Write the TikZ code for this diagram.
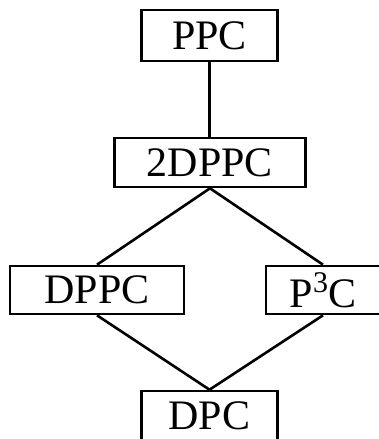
\documentclass[tikz,border=0pt]{standalone}
\usepackage{fontspec}
\setmainfont{Liberation Serif}
\usetikzlibrary{positioning}

\tikzset{
  classbox/.style={draw, line width=2.6pt, inner sep=0pt, font=\fontsize{42}{50}\selectfont},
  link/.style={line width=2.6pt}
}
\newcommand{\cube}{\raisebox{15pt}{\fontsize{30}{32}\selectfont 3}}

\begin{document}
\begin{tikzpicture}[x=1pt, y=-1pt]
  \useasboundingbox (0,0) rectangle (378,439);
  % classes
  \node[classbox, minimum width=136pt, minimum height=51pt] (ppc) at (209.5,35.5) {PPC};
  \node[classbox, minimum width=191pt, minimum height=49pt] (tdppc) at (210,162.5) {2DPPC};
  \node[classbox, minimum width=174pt, minimum height=48pt] (dppc) at (97,290) {DPPC};
  \node[classbox, minimum width=114pt, minimum height=48pt] (pthc) at (323,290) {P\cube C};
  \node[classbox, minimum width=136pt, minimum height=50pt] (dpc) at (209.5,416) {DPC};
  % links
  \draw[link] (ppc.south) -- (ppc.south |- tdppc.north);
  \draw[link] (tdppc.south) -- (dppc.north);
  \draw[link] (tdppc.south) -- (pthc.north);
  \draw[link] (dppc.south) -- (dpc.north);
  \draw[link] (pthc.south) -- (dpc.north);
\end{tikzpicture}
\end{document}
